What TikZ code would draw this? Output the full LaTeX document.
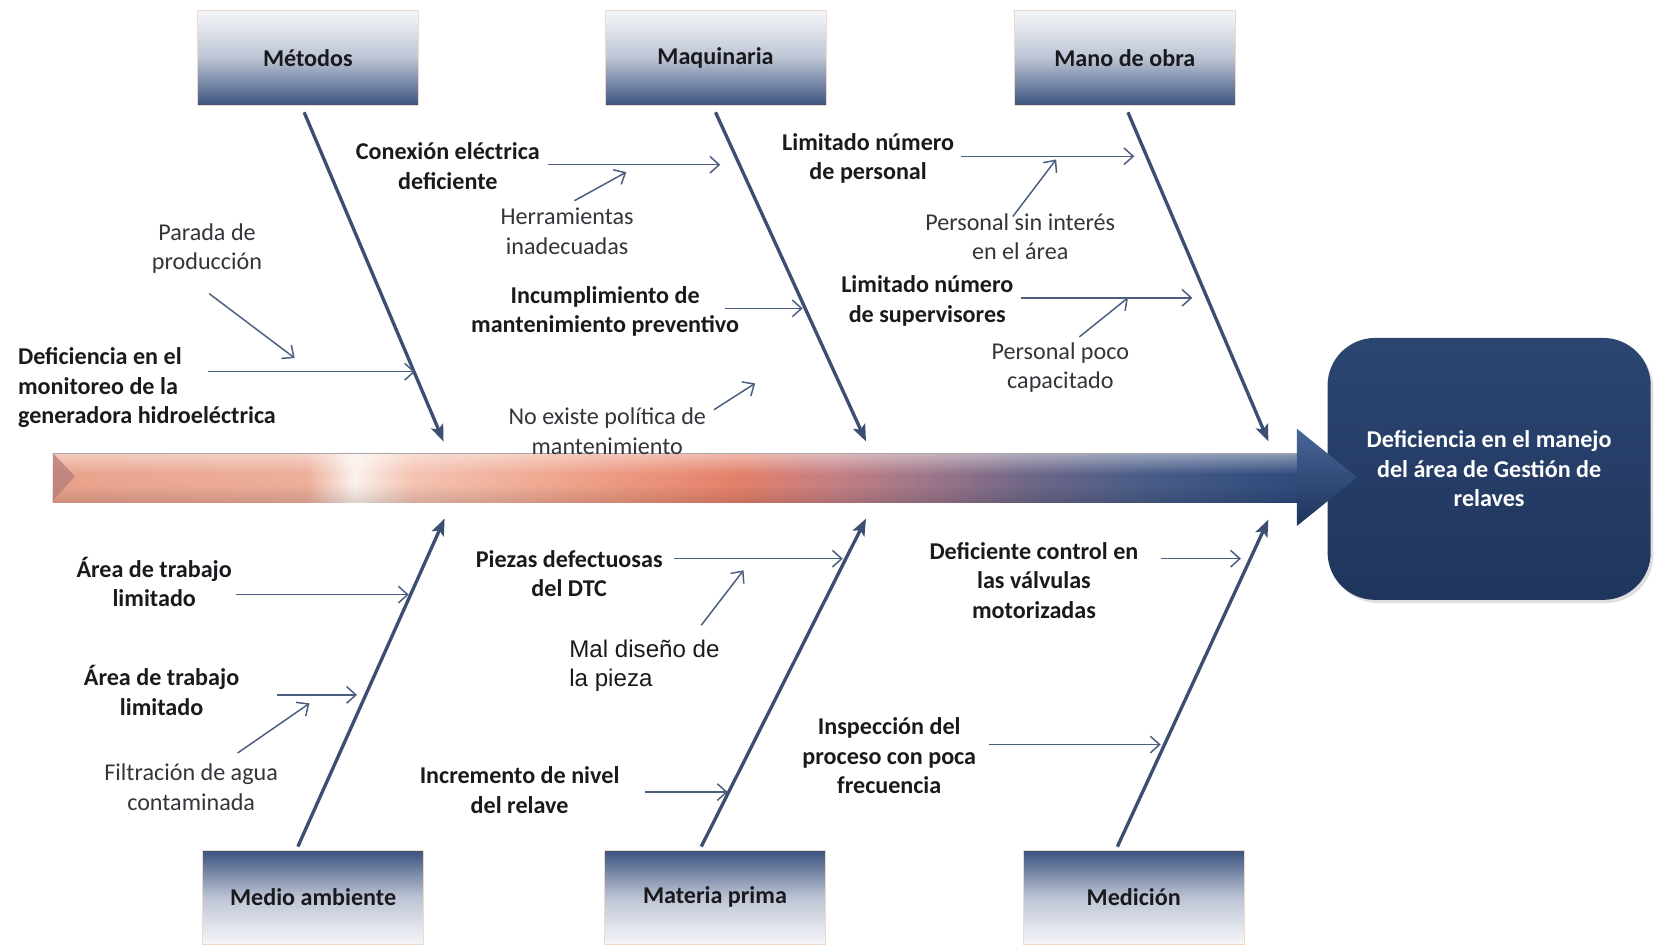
\documentclass[tikz,border=0pt]{standalone}
\usepackage{fontspec}
\setmainfont{Carlito}
\newfontfamily\arialfont{Liberation Sans}
\usepackage{tikz}
\usetikzlibrary{arrows.meta, positioning, shadows, fadings}
\definecolor{bonecol}{RGB}{60,78,114}
\definecolor{twigcol}{RGB}{76,94,128}
\definecolor{catnavy}{RGB}{58,82,126}
\definecolor{catmid}{RGB}{188,196,212}
\definecolor{catlight}{RGB}{245,246,249}
\definecolor{catedge}{RGB}{240,216,198}
\definecolor{efftop}{RGB}{44,70,114}
\definecolor{effbot}{RGB}{31,53,92}
\definecolor{txtdark}{RGB}{26,26,30}
\definecolor{txtsoft}{RGB}{52,52,58}
\definecolor{salmonA}{RGB}{233,162,140}
\definecolor{salmonB}{RGB}{237,174,154}
\definecolor{sWhite}{RGB}{251,241,236}
\definecolor{salmonL}{RGB}{244,195,178}
\definecolor{salmonC}{RGB}{238,158,134}
\definecolor{orangeD}{RGB}{228,128,106}
\definecolor{mauveA}{RGB}{196,127,132}
\definecolor{mauveB}{RGB}{156,118,137}
\definecolor{purpA}{RGB}{108,102,136}
\definecolor{slateA}{RGB}{74,93,136}
\definecolor{navyA}{RGB}{46,74,124}
\definecolor{headlight}{RGB}{72,102,152}
\definecolor{headdark}{RGB}{30,52,92}
\definecolor{bevel}{RGB}{180,124,122}
\tikzfading[name=fadedown, top color=transparent!0, bottom color=transparent!100]
\tikzfading[name=fadeup, top color=transparent!100, bottom color=transparent!0]
\newcommand{\lblsize}{\fontsize{13}{15.9}\selectfont}
\tikzset{
  topcat/.style={rectangle,draw=catedge,thin,top color=catlight,bottom color=catnavy,middle color=catmid,
    minimum width=4.18cm,minimum height=1.80cm,font=\lblsize\bfseries,text=txtdark},
  botcat/.style={topcat,top color=catnavy,bottom color=catlight,middle color=catmid,minimum height=1.78cm},
  effbox/.style={rectangle,rounded corners=0.9cm,top color=efftop,bottom color=effbot,align=center,
    text=white,font=\lblsize\bfseries,minimum width=6.12cm,minimum height=4.96cm,
    drop shadow={opacity=0.25,shadow xshift=0.05cm,shadow yshift=-0.06cm}},
  causetxt/.style={align=center,font=\lblsize\bfseries,text=txtdark,inner sep=1pt},
  subtxt/.style={align=center,font=\lblsize,text=txtsoft,inner sep=1pt},
  bone/.style={draw=bonecol,line width=1.8pt,-{Stealth[length=9pt,width=7pt,inset=2pt]}},
  twig/.style={draw=twigcol,line width=0.8pt,-{Straight Barb[length=5pt,width=9pt]}}
}

\begin{document}
\begin{tikzpicture}
  \useasboundingbox (0,0) rectangle (31.36,17.88);

  % effect
  \node[effbox] (efecto) at (28.20,9.00) {Deficiencia en el manejo\\del área de Gestión de\\relaves};

  % spine
  \shade[left color=salmonA,right color=salmonB] (1.00,8.36) rectangle (5.81,9.30);
  \shade[left color=salmonB,right color=sWhite] (5.80,8.36) rectangle (6.71,9.30);
  \shade[left color=sWhite,right color=salmonL] (6.70,8.36) rectangle (7.81,9.30);
  \shade[left color=salmonL,right color=salmonC] (7.80,8.36) rectangle (11.21,9.30);
  \shade[left color=salmonC,right color=orangeD] (11.20,8.36) rectangle (14.01,9.30);
  \shade[left color=orangeD,right color=mauveA] (14.00,8.36) rectangle (15.81,9.30);
  \shade[left color=mauveA,right color=mauveB] (15.80,8.36) rectangle (17.61,9.30);
  \shade[left color=mauveB,right color=purpA] (17.60,8.36) rectangle (19.61,9.30);
  \shade[left color=purpA,right color=slateA] (19.60,8.36) rectangle (21.61,9.30);
  \shade[left color=slateA,right color=navyA] (21.60,8.36) rectangle (24.62,9.30);
  \fill[white,path fading=fadedown,fill opacity=0.45] (1.00,8.90) rectangle (24.60,9.30);
  \fill[black,path fading=fadeup,fill opacity=0.12] (1.00,8.36) rectangle (24.60,8.70);
  \draw[black!35,line width=0.4pt] (1.00,9.30) -- (24.60,9.30);
  \fill[bevel,fill opacity=0.75] (1.00,9.30) -- (1.42,8.86) -- (1.00,8.40) -- cycle;
  \shade[top color=headlight,bottom color=headdark] (24.56,9.76) -- (25.70,8.84) -- (24.56,7.92) -- cycle;

  % categories
  \node[topcat] (metodos) at (5.83,16.78) {Métodos};
  \node[topcat] (maquinaria) at (13.55,16.78) {Maquinaria};
  \node[topcat] (manoobra) at (21.30,16.78) {Mano de obra};
  \node[botcat] (medio) at (5.93,0.89) {Medio ambiente};
  \node[botcat] (materia) at (13.54,0.89) {Materia prima};
  \node[botcat] (medicion) at (21.47,0.89) {Medición};

  % bones
  \coordinate (tipMet) at (8.40,9.52);
  \coordinate (tipMaq) at (16.40,9.52);
  \coordinate (tipMan) at (24.02,9.52);
  \coordinate (tipMed) at (8.42,8.06);
  \coordinate (tipMat) at (16.40,8.06);
  \coordinate (tipMcn) at (24.02,8.04);
  \draw[bone] ([xshift=-0.07cm,yshift=-0.12cm]metodos.south) -- (tipMet);
  \draw[bone] ([yshift=-0.12cm]maquinaria.south) -- (tipMaq);
  \draw[bone] ([xshift=0.06cm,yshift=-0.12cm]manoobra.south) -- (tipMan);
  \draw[bone] ([xshift=-0.29cm,yshift=0.06cm]medio.north) -- (tipMed);
  \draw[bone] ([xshift=-0.26cm,yshift=0.06cm]materia.north) -- (tipMat);
  \draw[bone] ([xshift=-0.31cm,yshift=0.06cm]medicion.north) -- (tipMcn);

  % causes
  \node[causetxt,anchor=west,align=left] (monitoreo) at (0.30,10.54) {Deficiencia en el\\monitoreo de la\\generadora hidroeléctrica};
  \node[subtxt] (parada) at (3.92,13.17) {Parada de\\producción};
  \node[causetxt] (conexion) at (8.48,14.73) {Conexión eléctrica\\deficiente};
  \node[subtxt] (herramientas) at (10.74,13.50) {Herramientas\\inadecuadas};
  \node[causetxt] (incumpl) at (11.46,11.98) {Incumplimiento de\\mantenimiento preventivo};
  \node[subtxt] (politica) at (11.50,9.71) {No existe política de\\mantenimiento};
  \node[causetxt] (numpersonal) at (16.44,14.88) {Limitado número\\de personal};
  \node[subtxt] (sininteres) at (19.32,13.40) {Personal sin interés\\en el área};
  \node[causetxt] (numsuperv) at (17.56,12.18) {Limitado número\\de supervisores};
  \node[subtxt] (pococap) at (20.08,10.92) {Personal poco\\capacitado};
  \node[causetxt] (areaA) at (2.92,6.86) {Área de trabajo\\limitado};
  \node[causetxt] (areaB) at (3.06,4.80) {Área de trabajo\\limitado};
  \node[subtxt] (filtracion) at (3.62,2.97) {Filtración de agua\\contaminada};
  \node[causetxt] (piezas) at (10.78,7.02) {Piezas defectuosas\\del DTC};
  \node[subtxt,anchor=west,align=left,font=\lblsize\arialfont,text=txtdark] (diseno) at (10.74,5.27) {Mal diseño de\\la pieza};
  \node[causetxt] (incremento) at (9.84,2.92) {Incremento de nivel\\del relave};
  \node[causetxt] (valvulas) at (19.58,6.89) {Deficiente control en\\las válvulas\\motorizadas};
  \node[causetxt] (inspeccion) at (16.84,3.57) {Inspección del\\proceso con poca\\frecuencia};

  % twigs
  \coordinate (monA) at (3.94,10.84);  \coordinate (monB) at (7.86,10.84);
  \coordinate (parA) at (3.96,12.32);  \coordinate (parB) at (5.58,11.10);
  \coordinate (conA) at (10.38,14.76); \coordinate (conB) at (13.64,14.76);
  \coordinate (herA) at (10.88,14.08); \coordinate (herB) at (11.86,14.62);
  \coordinate (incA) at (13.72,12.04); \coordinate (incB) at (15.20,12.04);
  \coordinate (polA) at (13.52,10.12); \coordinate (polB) at (14.30,10.62);
  \coordinate (perA) at (18.20,14.92); \coordinate (perB) at (21.48,14.92);
  \coordinate (sinA) at (19.18,13.78); \coordinate (sinB) at (20.00,14.86);
  \coordinate (supA) at (19.34,12.24); \coordinate (supB) at (22.58,12.24);
  \coordinate (capA) at (20.44,11.50); \coordinate (capB) at (21.36,12.24);
  \coordinate (arAa) at (4.46,6.62);   \coordinate (arAb) at (7.74,6.62);
  \coordinate (arBa) at (5.24,4.72);   \coordinate (arBb) at (6.76,4.72);
  \coordinate (filA) at (4.50,3.62);   \coordinate (filB) at (5.86,4.56);
  \coordinate (pieA) at (12.76,7.30);  \coordinate (pieB) at (15.96,7.30);
  \coordinate (disA) at (13.28,6.04);  \coordinate (disB) at (14.08,7.08);
  \coordinate (incrA) at (12.22,2.88); \coordinate (incrB) at (13.78,2.88);
  \coordinate (valA) at (21.98,7.30);  \coordinate (valB) at (23.50,7.30);
  \coordinate (insA) at (18.72,3.78);  \coordinate (insB) at (21.98,3.78);
  \draw[twig] (monA) -- (monB);  \draw[twig] (parA) -- (parB);
  \draw[twig] (conA) -- (conB);  \draw[twig] (herA) -- (herB);
  \draw[twig] (incA) -- (incB);  \draw[twig] (polA) -- (polB);
  \draw[twig] (perA) -- (perB);  \draw[twig] (sinA) -- (sinB);
  \draw[twig] (supA) -- (supB);  \draw[twig] (capA) -- (capB);
  \draw[twig] (arAa) -- (arAb);  \draw[twig] (arBa) -- (arBb);
  \draw[twig] (filA) -- (filB);  \draw[twig] (pieA) -- (pieB);
  \draw[twig] (disA) -- (disB);  \draw[twig] (incrA) -- (incrB);
  \draw[twig] (valA) -- (valB);  \draw[twig] (insA) -- (insB);
\end{tikzpicture}
\end{document}
